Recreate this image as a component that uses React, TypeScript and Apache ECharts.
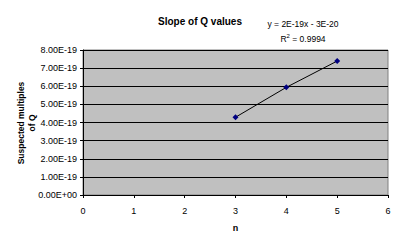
import React, { useEffect, useRef } from "react";
import * as echarts from "echarts";

const nValues = [3, 4, 5];
const qValues = [4.29e-19, 5.94e-19, 7.39e-19];
const titleText = "Slope of Q values";
const equationText = "y = 2E-19x - 3E-20";
const r2Text = "R{sup|2} = 0.9994";
const xName = "n";
const yName = "Suspected multiples\nof Q";

const FONT = "Liberation Sans, Arial, sans-serif";

function fmtSci(v: number): string {
  if (Math.abs(v) < 1e-40) return "0.00E+00";
  const s = v.toExponential(2).toUpperCase();
  const m = s.match(/^(-?[\d.]+)E([+-])(\d+)$/);
  if (!m) return s;
  const e = m[3].length < 2 ? "0" + m[3] : m[3];
  return m[1] + "E" + m[2] + e;
}

export default function App() {
  const ref = useRef<HTMLDivElement>(null);
  useEffect(() => {
    if (!ref.current) return;
    const chart = echarts.init(ref.current, undefined, { renderer: "svg" });
    chart.setOption({
      animation: false,
      backgroundColor: "#ffffff",
      graphic: [
        {
          type: "rect",
          shape: { x: 4.5, y: 4.5, width: 390, height: 237 },
          style: { fill: "none", stroke: "#000", lineWidth: 1 },
          silent: true,
          z: -1,
        },
        {
          type: "text",
          x: 200,
          y: 21,
          style: {
            text: titleText,
            font: "bold 10px " + FONT,
            fill: "#000",
            align: "center",
            verticalAlign: "middle",
          },
        },
        {
          type: "text",
          x: 303,
          y: 24,
          style: {
            text: equationText,
            font: "8.5px " + FONT,
            fill: "#000",
            align: "center",
            verticalAlign: "middle",
          },
        },
        {
          type: "text",
          x: 303,
          y: 39,
          style: {
            text: r2Text,
            font: "8.5px " + FONT,
            fill: "#000",
            align: "center",
            verticalAlign: "middle",
            rich: {
              sup: { fontSize: 6, verticalAlign: "top", padding: [0, 0, 6, 0], fontFamily: FONT },
            },
          },
        },
        {
          type: "text",
          x: 26,
          y: 123,
          rotation: Math.PI / 2,
          style: {
            text: yName,
            font: "bold 8.5px " + FONT,
            lineHeight: 11,
            fill: "#000",
            align: "center",
            verticalAlign: "middle",
          },
        },
      ],
      grid: {
        left: 83,
        top: 50,
        width: 305,
        height: 145,
        show: true,
        backgroundColor: "#c0c0c0",
        borderColor: "#808080",
        borderWidth: 1,
      },
      xAxis: {
        type: "value",
        min: 0,
        max: 6,
        interval: 1,
        name: xName,
        nameLocation: "middle",
        nameGap: 28,
        nameTextStyle: { fontFamily: FONT, fontSize: 9, fontWeight: "bold", color: "#000" },
        axisLine: { show: true, onZero: false, lineStyle: { color: "#000", width: 1 } },
        axisTick: { show: true, length: 3, lineStyle: { color: "#000" } },
        axisLabel: { fontFamily: FONT, fontSize: 9, color: "#000", margin: 11 },
        splitLine: { show: false },
      },
      yAxis: {
        type: "value",
        min: 0,
        max: 8e-19,
        interval: 1e-19,
        axisLine: { show: true, lineStyle: { color: "#000", width: 1 } },
        axisTick: { show: true, length: 3, lineStyle: { color: "#000" } },
        axisLabel: {
          fontFamily: FONT,
          fontSize: 9,
          color: "#000",
          margin: 6,
          formatter: (v: number) => fmtSci(v),
        },
        splitLine: { show: true, lineStyle: { color: "#000", width: 1 } },
      },
      series: [
        {
          type: "line",
          data: nValues.map((n, i) => [n, qValues[i]]),
          symbol: "diamond",
          symbolSize: 6,
          itemStyle: { color: "#000080" },
          lineStyle: { color: "#000", width: 1 },
        },
      ],
    });
    return () => chart.dispose();
  }, []);
  return <div ref={ref} style={{ width: 400, height: 247, margin: -8 }} />;
}
